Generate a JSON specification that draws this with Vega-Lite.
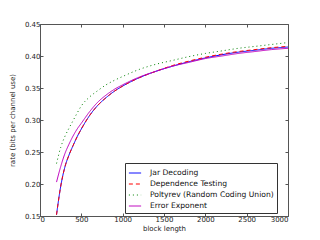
{
  "$schema": "https://vega.github.io/schema/vega-lite/v6.json",
  "width": 248,
  "height": 192,
  "padding": {"left": 40, "top": 24, "right": 32, "bottom": 24},
  "autosize": {"type": "none"},
  "background": "white",
  "config": {
    "font": "DejaVu Sans",
    "view": {"stroke": "#555555", "strokeWidth": 1},
    "axis": {"grid": false, "domain": false, "labelFontSize": 7, "titleFontSize": 7, "titleFontWeight": "normal", "tickColor": "#555555", "tickSize": -3, "labelColor": "#222222", "titleColor": "#222222"},
    "legend": {"orient": "none", "legendX": 85, "legendY": 139, "fillColor": "white", "strokeColor": "#333333", "padding": 3, "labelFontSize": 7.6, "labelColor": "#111111", "symbolType": "stroke", "symbolSize": 150, "symbolStrokeWidth": 1, "labelOffset": 8, "rowPadding": -0.5, "labelLimit": 200}
  },
  "datasets": {
    "curves": [
      {"n": 200, "rate": 0.152, "method": "Jar Decoding"},
      {"n": 250, "rate": 0.196, "method": "Jar Decoding"},
      {"n": 300, "rate": 0.226, "method": "Jar Decoding"},
      {"n": 350, "rate": 0.245, "method": "Jar Decoding"},
      {"n": 400, "rate": 0.260, "method": "Jar Decoding"},
      {"n": 450, "rate": 0.274, "method": "Jar Decoding"},
      {"n": 500, "rate": 0.286, "method": "Jar Decoding"},
      {"n": 600, "rate": 0.307, "method": "Jar Decoding"},
      {"n": 700, "rate": 0.323, "method": "Jar Decoding"},
      {"n": 800, "rate": 0.335, "method": "Jar Decoding"},
      {"n": 900, "rate": 0.345, "method": "Jar Decoding"},
      {"n": 1000, "rate": 0.353, "method": "Jar Decoding"},
      {"n": 1200, "rate": 0.366, "method": "Jar Decoding"},
      {"n": 1400, "rate": 0.376, "method": "Jar Decoding"},
      {"n": 1600, "rate": 0.384, "method": "Jar Decoding"},
      {"n": 1800, "rate": 0.391, "method": "Jar Decoding"},
      {"n": 2000, "rate": 0.397, "method": "Jar Decoding"},
      {"n": 2200, "rate": 0.402, "method": "Jar Decoding"},
      {"n": 2400, "rate": 0.406, "method": "Jar Decoding"},
      {"n": 2600, "rate": 0.409, "method": "Jar Decoding"},
      {"n": 2800, "rate": 0.412, "method": "Jar Decoding"},
      {"n": 3000, "rate": 0.414, "method": "Jar Decoding"},

      {"n": 200, "rate": 0.152, "method": "Dependence Testing"},
      {"n": 250, "rate": 0.196, "method": "Dependence Testing"},
      {"n": 300, "rate": 0.226, "method": "Dependence Testing"},
      {"n": 350, "rate": 0.245, "method": "Dependence Testing"},
      {"n": 400, "rate": 0.260, "method": "Dependence Testing"},
      {"n": 450, "rate": 0.274, "method": "Dependence Testing"},
      {"n": 500, "rate": 0.286, "method": "Dependence Testing"},
      {"n": 600, "rate": 0.307, "method": "Dependence Testing"},
      {"n": 700, "rate": 0.323, "method": "Dependence Testing"},
      {"n": 800, "rate": 0.335, "method": "Dependence Testing"},
      {"n": 900, "rate": 0.345, "method": "Dependence Testing"},
      {"n": 1000, "rate": 0.353, "method": "Dependence Testing"},
      {"n": 1200, "rate": 0.366, "method": "Dependence Testing"},
      {"n": 1400, "rate": 0.376, "method": "Dependence Testing"},
      {"n": 1600, "rate": 0.385, "method": "Dependence Testing"},
      {"n": 1800, "rate": 0.392, "method": "Dependence Testing"},
      {"n": 2000, "rate": 0.398, "method": "Dependence Testing"},
      {"n": 2200, "rate": 0.403, "method": "Dependence Testing"},
      {"n": 2400, "rate": 0.407, "method": "Dependence Testing"},
      {"n": 2600, "rate": 0.410, "method": "Dependence Testing"},
      {"n": 2800, "rate": 0.413, "method": "Dependence Testing"},
      {"n": 3000, "rate": 0.415, "method": "Dependence Testing"},

      {"n": 200, "rate": 0.232, "method": "Poltyrev (Random Coding Union)"},
      {"n": 250, "rate": 0.257, "method": "Poltyrev (Random Coding Union)"},
      {"n": 300, "rate": 0.274, "method": "Poltyrev (Random Coding Union)"},
      {"n": 350, "rate": 0.287, "method": "Poltyrev (Random Coding Union)"},
      {"n": 400, "rate": 0.299, "method": "Poltyrev (Random Coding Union)"},
      {"n": 450, "rate": 0.311, "method": "Poltyrev (Random Coding Union)"},
      {"n": 500, "rate": 0.322, "method": "Poltyrev (Random Coding Union)"},
      {"n": 600, "rate": 0.336, "method": "Poltyrev (Random Coding Union)"},
      {"n": 700, "rate": 0.346, "method": "Poltyrev (Random Coding Union)"},
      {"n": 800, "rate": 0.355, "method": "Poltyrev (Random Coding Union)"},
      {"n": 900, "rate": 0.362, "method": "Poltyrev (Random Coding Union)"},
      {"n": 1000, "rate": 0.368, "method": "Poltyrev (Random Coding Union)"},
      {"n": 1200, "rate": 0.379, "method": "Poltyrev (Random Coding Union)"},
      {"n": 1400, "rate": 0.387, "method": "Poltyrev (Random Coding Union)"},
      {"n": 1600, "rate": 0.393, "method": "Poltyrev (Random Coding Union)"},
      {"n": 1800, "rate": 0.399, "method": "Poltyrev (Random Coding Union)"},
      {"n": 2000, "rate": 0.404, "method": "Poltyrev (Random Coding Union)"},
      {"n": 2200, "rate": 0.408, "method": "Poltyrev (Random Coding Union)"},
      {"n": 2400, "rate": 0.412, "method": "Poltyrev (Random Coding Union)"},
      {"n": 2600, "rate": 0.415, "method": "Poltyrev (Random Coding Union)"},
      {"n": 2800, "rate": 0.418, "method": "Poltyrev (Random Coding Union)"},
      {"n": 3000, "rate": 0.421, "method": "Poltyrev (Random Coding Union)"},

      {"n": 200, "rate": 0.203, "method": "Error Exponent"},
      {"n": 250, "rate": 0.227, "method": "Error Exponent"},
      {"n": 300, "rate": 0.247, "method": "Error Exponent"},
      {"n": 350, "rate": 0.262, "method": "Error Exponent"},
      {"n": 400, "rate": 0.275, "method": "Error Exponent"},
      {"n": 450, "rate": 0.286, "method": "Error Exponent"},
      {"n": 500, "rate": 0.295, "method": "Error Exponent"},
      {"n": 600, "rate": 0.313, "method": "Error Exponent"},
      {"n": 700, "rate": 0.328, "method": "Error Exponent"},
      {"n": 800, "rate": 0.339, "method": "Error Exponent"},
      {"n": 900, "rate": 0.348, "method": "Error Exponent"},
      {"n": 1000, "rate": 0.355, "method": "Error Exponent"},
      {"n": 1200, "rate": 0.367, "method": "Error Exponent"},
      {"n": 1400, "rate": 0.376, "method": "Error Exponent"},
      {"n": 1600, "rate": 0.384, "method": "Error Exponent"},
      {"n": 1800, "rate": 0.390, "method": "Error Exponent"},
      {"n": 2000, "rate": 0.396, "method": "Error Exponent"},
      {"n": 2200, "rate": 0.400, "method": "Error Exponent"},
      {"n": 2400, "rate": 0.404, "method": "Error Exponent"},
      {"n": 2600, "rate": 0.407, "method": "Error Exponent"},
      {"n": 2800, "rate": 0.410, "method": "Error Exponent"},
      {"n": 3000, "rate": 0.412, "method": "Error Exponent"}
    ]
  },
  "data": {"name": "curves"},
  "layer": [
    {
      "mark": {"type": "line", "strokeWidth": 1, "clip": true, "interpolate": "monotone"},
      "encoding": {
        "x": {"field": "n", "type": "quantitative", "scale": {"domain": [0, 3000], "nice": false}, "axis": {"title": "block length", "values": [0, 500, 1000, 1500, 2000, 2500, 3000], "format": "d", "labelPadding": 2, "titlePadding": 2}},
        "y": {"field": "rate", "type": "quantitative", "scale": {"domain": [0.15, 0.45], "nice": false, "zero": false}, "axis": {"title": "rate (bits per channel use)", "values": [0.15, 0.2, 0.25, 0.3, 0.35, 0.4, 0.45], "format": ".2f", "labelPadding": 3, "titlePadding": 9}},
        "color": {"field": "method", "type": "nominal", "sort": ["Jar Decoding", "Dependence Testing", "Poltyrev (Random Coding Union)", "Error Exponent"], "scale": {"domain": ["Jar Decoding", "Dependence Testing", "Poltyrev (Random Coding Union)", "Error Exponent"], "range": ["#0000ff", "#ff0000", "#008000", "#bf00bf"]}, "legend": {"title": null}},
        "strokeDash": {"field": "method", "type": "nominal", "sort": ["Jar Decoding", "Dependence Testing", "Poltyrev (Random Coding Union)", "Error Exponent"], "scale": {"domain": ["Jar Decoding", "Dependence Testing", "Poltyrev (Random Coding Union)", "Error Exponent"], "range": [[1, 0], [4, 3], [1, 3], [1, 0]]}, "legend": {"title": null}}
      }
    },
    {
      "mark": {"type": "rule", "opacity": 0},
      "encoding": {
        "x": {"field": "n", "type": "quantitative", "aggregate": "min", "axis": {"orient": "top", "labels": false, "title": null, "values": [0, 500, 1000, 1500, 2000, 2500, 3000]}},
        "y": {"field": "rate", "type": "quantitative", "aggregate": "min", "axis": {"orient": "right", "labels": false, "title": null, "values": [0.15, 0.2, 0.25, 0.3, 0.35, 0.4, 0.45]}}
      }
    }
  ],
  "resolve": {"axis": {"x": "independent", "y": "independent"}}
}
